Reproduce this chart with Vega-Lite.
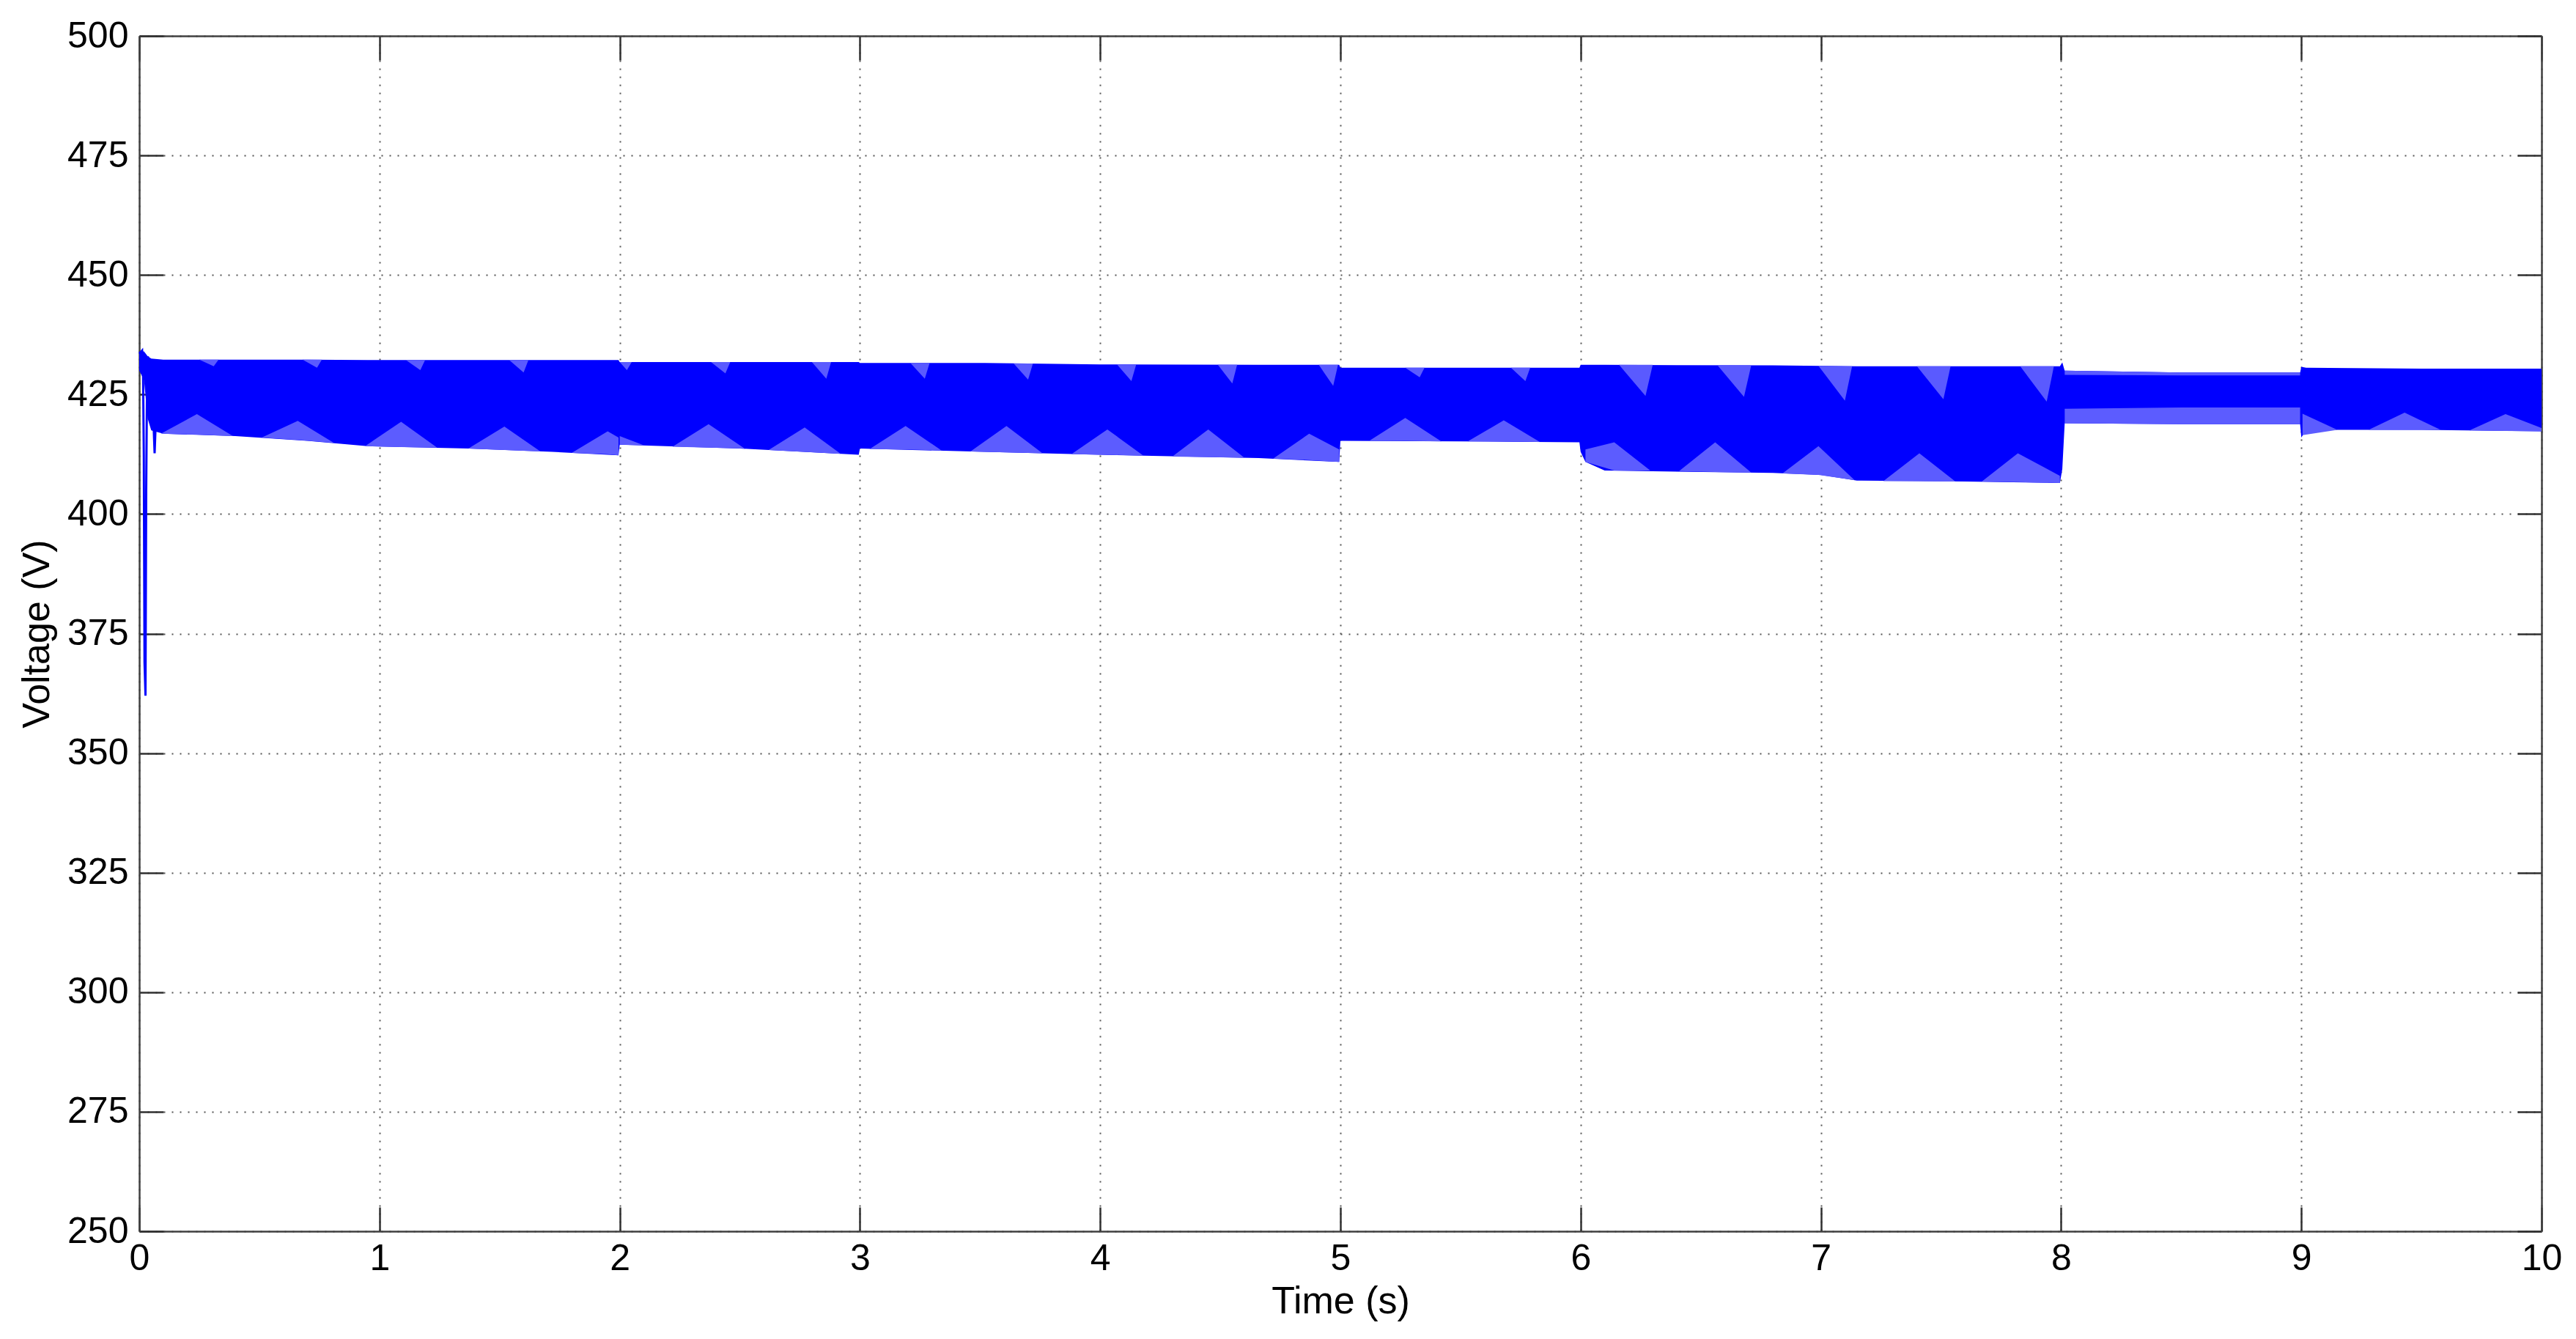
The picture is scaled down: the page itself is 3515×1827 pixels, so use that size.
{
  "$schema": "https://vega.github.io/schema/vega-lite/v6.json",
  "autosize": {"type": "none"},
  "padding": {"left": 190, "top": 49, "right": 47, "bottom": 147},
  "width": 3278,
  "height": 1631,
  "background": "white",
  "config": {
    "view": {"stroke": null},
    "font": "Liberation Sans",
    "axis": {
      "labelFont": "Liberation Sans",
      "titleFont": "Liberation Sans",
      "labelFontSize": 50,
      "titleFontSize": 52,
      "titleFontWeight": "normal",
      "labelColor": "#000000",
      "titleColor": "#000000",
      "domainColor": "#404040",
      "domainWidth": 2.5,
      "tickColor": "#303030",
      "tickWidth": 2.5,
      "tickSize": -33,
      "gridColor": "#555555",
      "gridWidth": 2,
      "gridDash": [2, 9],
      "gridOpacity": 1
    }
  },
  "datasets": {
    "env": [
      {"t": 0.0, "hi": 434.0, "lo": 430.0},
      {"t": 0.02, "hi": 434.0, "lo": 428.0},
      {"t": 0.035, "hi": 433.0, "lo": 420.0},
      {"t": 0.05, "hi": 432.5, "lo": 417.5},
      {"t": 0.1, "hi": 432.3, "lo": 416.8},
      {"t": 0.4, "hi": 432.3, "lo": 416.3},
      {"t": 0.7, "hi": 432.3, "lo": 415.3},
      {"t": 0.95, "hi": 432.2, "lo": 414.2},
      {"t": 1.37, "hi": 432.2, "lo": 413.7},
      {"t": 1.72, "hi": 432.2, "lo": 413.0},
      {"t": 1.995, "hi": 432.2, "lo": 412.3},
      {"t": 2.0, "hi": 431.8, "lo": 414.5},
      {"t": 2.5, "hi": 431.8, "lo": 413.7},
      {"t": 2.995, "hi": 431.8, "lo": 412.4},
      {"t": 3.0, "hi": 431.6, "lo": 413.7},
      {"t": 3.52, "hi": 431.6, "lo": 413.0},
      {"t": 4.0, "hi": 431.3, "lo": 412.4},
      {"t": 4.66, "hi": 431.2, "lo": 411.7},
      {"t": 4.995, "hi": 431.2, "lo": 410.9},
      {"t": 5.0, "hi": 430.6, "lo": 415.3},
      {"t": 5.5, "hi": 430.6, "lo": 415.2},
      {"t": 5.995, "hi": 430.6, "lo": 415.0},
      {"t": 6.0, "hi": 431.2, "lo": 413.0},
      {"t": 6.02, "hi": 431.2, "lo": 410.9},
      {"t": 6.1, "hi": 431.2, "lo": 409.1},
      {"t": 6.8, "hi": 431.1, "lo": 408.6},
      {"t": 7.0, "hi": 431.0, "lo": 408.2},
      {"t": 7.15, "hi": 430.9, "lo": 407.0},
      {"t": 7.6, "hi": 430.9, "lo": 406.8},
      {"t": 7.995, "hi": 430.9, "lo": 406.5},
      {"t": 8.005, "hi": 431.7, "lo": 409.4},
      {"t": 8.015, "hi": 430.0, "lo": 419.0},
      {"t": 8.5, "hi": 429.6, "lo": 418.8},
      {"t": 8.995, "hi": 429.6, "lo": 418.8},
      {"t": 9.0, "hi": 430.8, "lo": 416.0},
      {"t": 9.02, "hi": 430.6, "lo": 417.6},
      {"t": 9.5, "hi": 430.4, "lo": 417.6},
      {"t": 10.0, "hi": 430.4, "lo": 417.3}
    ],
    "scallops": [
      {"g": "s1", "t": 0.09, "a": 416.8, "b": 416.8},
      {"g": "s1", "t": 0.24, "a": 416.6, "b": 420.9},
      {"g": "s1", "t": 0.39, "a": 416.3, "b": 416.3},
      {"g": "s2", "t": 0.51, "a": 416.0, "b": 416.0},
      {"g": "s2", "t": 0.66, "a": 415.5, "b": 419.5},
      {"g": "s2", "t": 0.81, "a": 414.9, "b": 414.9},
      {"g": "s3", "t": 0.94, "a": 414.2, "b": 414.2},
      {"g": "s3", "t": 1.09, "a": 414.0, "b": 419.3},
      {"g": "s3", "t": 1.24, "a": 413.9, "b": 413.9},
      {"g": "s4", "t": 1.37, "a": 413.7, "b": 413.7},
      {"g": "s4", "t": 1.52, "a": 413.4, "b": 418.3},
      {"g": "s4", "t": 1.67, "a": 413.1, "b": 413.1},
      {"g": "s5", "t": 1.8, "a": 412.8, "b": 412.8},
      {"g": "s5", "t": 1.95, "a": 412.5, "b": 417.3},
      {"g": "s5", "t": 1.995, "a": 412.3, "b": 416.0},
      {"g": "s5b", "t": 2.0, "a": 414.5, "b": 416.3},
      {"g": "s5b", "t": 2.1, "a": 414.4, "b": 414.4},
      {"g": "s6", "t": 2.22, "a": 414.1, "b": 414.1},
      {"g": "s6", "t": 2.37, "a": 413.9, "b": 418.8},
      {"g": "s6", "t": 2.52, "a": 413.7, "b": 413.7},
      {"g": "s7", "t": 2.62, "a": 413.4, "b": 413.4},
      {"g": "s7", "t": 2.77, "a": 413.0, "b": 418.1},
      {"g": "s7", "t": 2.92, "a": 412.6, "b": 412.6},
      {"g": "s8", "t": 3.04, "a": 413.6, "b": 413.6},
      {"g": "s8", "t": 3.19, "a": 413.5, "b": 418.4},
      {"g": "s8", "t": 3.34, "a": 413.3, "b": 413.3},
      {"g": "s9", "t": 3.46, "a": 413.1, "b": 413.1},
      {"g": "s9", "t": 3.61, "a": 412.9, "b": 418.4},
      {"g": "s9", "t": 3.76, "a": 412.7, "b": 412.7},
      {"g": "s10", "t": 3.88, "a": 412.5, "b": 412.5},
      {"g": "s10", "t": 4.03, "a": 412.4, "b": 417.7},
      {"g": "s10", "t": 4.18, "a": 412.2, "b": 412.2},
      {"g": "s11", "t": 4.3, "a": 412.0, "b": 412.0},
      {"g": "s11", "t": 4.45, "a": 411.9, "b": 417.7},
      {"g": "s11", "t": 4.6, "a": 411.8, "b": 411.8},
      {"g": "s12", "t": 4.72, "a": 411.6, "b": 411.6},
      {"g": "s12", "t": 4.87, "a": 411.3, "b": 416.8},
      {"g": "s12", "t": 4.995, "a": 410.9, "b": 413.5},
      {"g": "s13", "t": 5.12, "a": 415.3, "b": 415.3},
      {"g": "s13", "t": 5.27, "a": 415.3, "b": 420.1},
      {"g": "s13", "t": 5.42, "a": 415.2, "b": 415.2},
      {"g": "s14", "t": 5.53, "a": 415.2, "b": 415.2},
      {"g": "s14", "t": 5.68, "a": 415.2, "b": 419.6},
      {"g": "s14", "t": 5.83, "a": 415.1, "b": 415.1},
      {"g": "s15", "t": 6.02, "a": 410.9, "b": 413.5},
      {"g": "s15", "t": 6.14, "a": 409.1, "b": 415.0},
      {"g": "s15", "t": 6.29, "a": 409.1, "b": 409.1},
      {"g": "s16", "t": 6.41, "a": 409.0, "b": 409.0},
      {"g": "s16", "t": 6.56, "a": 408.8, "b": 415.0},
      {"g": "s16", "t": 6.71, "a": 408.7, "b": 408.7},
      {"g": "s17", "t": 6.84, "a": 408.5, "b": 408.5},
      {"g": "s17", "t": 6.99, "a": 408.2, "b": 414.2},
      {"g": "s17", "t": 7.14, "a": 407.1, "b": 407.1},
      {"g": "s18", "t": 7.26, "a": 406.9, "b": 406.9},
      {"g": "s18", "t": 7.41, "a": 406.9, "b": 412.7},
      {"g": "s18", "t": 7.56, "a": 406.8, "b": 406.8},
      {"g": "s19", "t": 7.67, "a": 406.8, "b": 406.8},
      {"g": "s19", "t": 7.82, "a": 406.7, "b": 412.7},
      {"g": "s19", "t": 7.995, "a": 406.5, "b": 408.0},
      {"g": "l89", "t": 8.015, "a": 419.0, "b": 422.0},
      {"g": "l89", "t": 8.5, "a": 418.8, "b": 422.3},
      {"g": "l89", "t": 8.995, "a": 418.8, "b": 422.3},
      {"g": "s20", "t": 9.005, "a": 416.5, "b": 421.0},
      {"g": "s20", "t": 9.15, "a": 417.6, "b": 417.6},
      {"g": "s21", "t": 9.28, "a": 417.6, "b": 417.6},
      {"g": "s21", "t": 9.43, "a": 417.6, "b": 421.2},
      {"g": "s21", "t": 9.58, "a": 417.6, "b": 417.6},
      {"g": "s22", "t": 9.7, "a": 417.5, "b": 417.5},
      {"g": "s22", "t": 9.85, "a": 417.4, "b": 420.9},
      {"g": "s22", "t": 10.0, "a": 417.3, "b": 418.0}
    ],
    "dips": [
      {"g": "d1", "t": 0.25, "a": 432.3, "b": 432.3},
      {"g": "d1", "t": 0.31, "a": 432.3, "b": 430.9},
      {"g": "d1", "t": 0.33, "a": 432.3, "b": 432.3},
      {"g": "d2", "t": 0.68, "a": 432.3, "b": 432.3},
      {"g": "d2", "t": 0.74, "a": 432.3, "b": 430.6},
      {"g": "d2", "t": 0.76, "a": 432.3, "b": 432.3},
      {"g": "d3", "t": 1.11, "a": 432.2, "b": 432.2},
      {"g": "d3", "t": 1.17, "a": 432.2, "b": 430.1},
      {"g": "d3", "t": 1.19, "a": 432.2, "b": 432.2},
      {"g": "d4", "t": 1.54, "a": 432.2, "b": 432.2},
      {"g": "d4", "t": 1.6, "a": 432.2, "b": 429.6},
      {"g": "d4", "t": 1.62, "a": 432.2, "b": 432.2},
      {"g": "d5", "t": 2.0, "a": 431.8, "b": 431.8},
      {"g": "d5", "t": 2.03, "a": 431.8, "b": 430.1},
      {"g": "d5", "t": 2.05, "a": 431.8, "b": 431.8},
      {"g": "d6", "t": 2.38, "a": 431.8, "b": 431.8},
      {"g": "d6", "t": 2.44, "a": 431.8, "b": 429.4},
      {"g": "d6", "t": 2.46, "a": 431.8, "b": 431.8},
      {"g": "d7", "t": 2.8, "a": 431.8, "b": 431.8},
      {"g": "d7", "t": 2.86, "a": 431.8, "b": 428.3},
      {"g": "d7", "t": 2.88, "a": 431.8, "b": 431.8},
      {"g": "d8", "t": 3.21, "a": 431.6, "b": 431.6},
      {"g": "d8", "t": 3.27, "a": 431.6, "b": 428.3},
      {"g": "d8", "t": 3.29, "a": 431.6, "b": 431.6},
      {"g": "d9", "t": 3.64, "a": 431.5, "b": 431.5},
      {"g": "d9", "t": 3.7, "a": 431.5, "b": 428.1},
      {"g": "d9", "t": 3.72, "a": 431.5, "b": 431.5},
      {"g": "d10", "t": 4.07, "a": 431.3, "b": 431.3},
      {"g": "d10", "t": 4.13, "a": 431.3, "b": 427.8},
      {"g": "d10", "t": 4.15, "a": 431.3, "b": 431.3},
      {"g": "d11", "t": 4.49, "a": 431.2, "b": 431.2},
      {"g": "d11", "t": 4.55, "a": 431.2, "b": 427.3},
      {"g": "d11", "t": 4.57, "a": 431.2, "b": 431.2},
      {"g": "d12", "t": 4.91, "a": 431.2, "b": 431.2},
      {"g": "d12", "t": 4.97, "a": 431.2, "b": 426.8},
      {"g": "d12", "t": 4.99, "a": 431.2, "b": 431.2},
      {"g": "d13", "t": 5.27, "a": 430.6, "b": 430.6},
      {"g": "d13", "t": 5.33, "a": 430.6, "b": 428.6},
      {"g": "d13", "t": 5.35, "a": 430.6, "b": 430.6},
      {"g": "d14", "t": 5.71, "a": 430.6, "b": 430.6},
      {"g": "d14", "t": 5.77, "a": 430.6, "b": 427.8},
      {"g": "d14", "t": 5.79, "a": 430.6, "b": 430.6},
      {"g": "d15", "t": 6.16, "a": 431.2, "b": 431.2},
      {"g": "d15", "t": 6.27, "a": 431.2, "b": 424.7},
      {"g": "d15", "t": 6.3, "a": 431.2, "b": 431.2},
      {"g": "d16", "t": 6.57, "a": 431.1, "b": 431.1},
      {"g": "d16", "t": 6.68, "a": 431.1, "b": 424.5},
      {"g": "d16", "t": 6.71, "a": 431.1, "b": 431.1},
      {"g": "d17", "t": 6.99, "a": 431.0, "b": 431.0},
      {"g": "d17", "t": 7.1, "a": 430.9, "b": 423.7},
      {"g": "d17", "t": 7.13, "a": 430.9, "b": 430.9},
      {"g": "d18", "t": 7.4, "a": 430.9, "b": 430.9},
      {"g": "d18", "t": 7.51, "a": 430.9, "b": 424.0},
      {"g": "d18", "t": 7.54, "a": 430.9, "b": 430.9},
      {"g": "d19", "t": 7.83, "a": 430.9, "b": 430.9},
      {"g": "d19", "t": 7.94, "a": 430.9, "b": 423.5},
      {"g": "d19", "t": 7.97, "a": 430.9, "b": 430.9},
      {"g": "u89", "t": 8.015, "a": 430.0, "b": 429.1},
      {"g": "u89", "t": 8.5, "a": 429.6, "b": 429.0},
      {"g": "u89", "t": 8.995, "a": 429.6, "b": 429.0}
    ],
    "tr": [
      {"g": "t1", "t": 0.0, "v": 433.5},
      {"g": "t1", "t": 0.012, "v": 434.2},
      {"g": "t1", "t": 0.016, "v": 429.0},
      {"g": "t1", "t": 0.019, "v": 412.0},
      {"g": "t1", "t": 0.022, "v": 369.0},
      {"g": "t1", "t": 0.026, "v": 362.0},
      {"g": "t1", "t": 0.029, "v": 405.0},
      {"g": "t1", "t": 0.032, "v": 425.0},
      {"g": "t1", "t": 0.036, "v": 433.0},
      {"g": "t2", "t": 0.058, "v": 421.0},
      {"g": "t2", "t": 0.064, "v": 412.7},
      {"g": "t2", "t": 0.07, "v": 421.0}
    ]
  },
  "layer": [
    {
      "data": {"name": "env"},
      "mark": {"type": "area", "color": "#0000ff", "opacity": 1},
      "encoding": {
        "x": {"field": "t", "type": "quantitative",
              "scale": {"domain": [0, 10], "nice": false, "zero": false},
              "axis": {"orient": "bottom", "title": "Time (s)", "values": [0,1,2,3,4,5,6,7,8,9,10],
                       "format": "d", "grid": true, "labelPadding": 45, "titlePadding": 8,
                       "labelFlush": false, "labelOverlap": false}},
        "y": {"field": "hi", "type": "quantitative",
              "scale": {"domain": [250, 500], "nice": false, "zero": false},
              "axis": {"orient": "left", "title": "Voltage (V)", "values": [250,275,300,325,350,375,400,425,450,475,500],
                       "format": "d", "grid": true, "labelPadding": 48, "titlePadding": 14,
                       "labelFlush": false, "labelOverlap": false}},
        "y2": {"field": "lo"}
      }
    },
    {
      "data": {"name": "scallops"},
      "mark": {"type": "area", "color": "#5c5cff", "opacity": 1},
      "encoding": {
        "x": {"field": "t", "type": "quantitative", "axis": null},
        "y": {"field": "b", "type": "quantitative", "axis": null},
        "y2": {"field": "a"},
        "detail": {"field": "g", "type": "nominal"}
      }
    },
    {
      "data": {"name": "dips"},
      "mark": {"type": "area", "color": "#5a5aff", "opacity": 1},
      "encoding": {
        "x": {"field": "t", "type": "quantitative", "axis": null},
        "y": {"field": "b", "type": "quantitative", "axis": null},
        "y2": {"field": "a"},
        "detail": {"field": "g", "type": "nominal"}
      }
    },
    {
      "data": {"name": "tr"},
      "mark": {"type": "line", "color": "#0000ff", "strokeWidth": 3},
      "encoding": {
        "x": {"field": "t", "type": "quantitative", "axis": null},
        "y": {"field": "v", "type": "quantitative", "axis": null},
        "detail": {"field": "g", "type": "nominal"}
      }
    },
    {
      "data": {"name": "env"},
      "mark": {"type": "point", "opacity": 0},
      "encoding": {
        "x": {"field": "t", "type": "quantitative",
              "axis": {"orient": "top", "title": null, "labels": false, "grid": false, "values": [0,1,2,3,4,5,6,7,8,9,10]}},
        "y": {"field": "hi", "type": "quantitative",
              "axis": {"orient": "right", "title": null, "labels": false, "grid": false, "values": [250,275,300,325,350,375,400,425,450,475,500]}}
      }
    }
  ],
  "resolve": {"axis": {"x": "independent", "y": "independent"}}
}
